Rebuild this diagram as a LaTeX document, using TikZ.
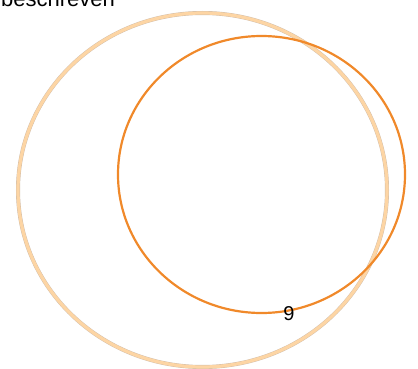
\documentclass[tikz,border=0pt]{standalone}
\usepackage{fontspec}
\setmainfont{Liberation Sans}
\definecolor{peach}{HTML}{FDD5A4}
\definecolor{peachedge}{HTML}{D0BCA8}
\definecolor{tangerine}{HTML}{F0892A}

\tikzset{
  outer circle/.style={draw=peachedge, line width=4pt},
  outer fill/.style={draw=peach, line width=3.2pt},
  inner circle/.style={draw=tangerine, line width=2.2pt},
  label text/.style={text=black, inner sep=0pt},
}

\begin{document}
\begin{tikzpicture}[x=1pt, y=-1pt]

% Frame
\useasboundingbox (0,0) rectangle (418,369);
\clip (0,0) rectangle (418,369);

% Large circle (light)
\draw[outer circle] (202.5,190) ellipse [x radius=184.5, y radius=177];
\draw[outer fill] (202.5,190) ellipse [x radius=184.5, y radius=177];

% Orange circle
\draw[inner circle] (261.5,174.5) ellipse [x radius=143.5, y radius=138.5];

% Labels
\node[label text, font=\fontsize{22}{26}\selectfont, anchor=base west] (title) at (1,7) {beschreven};
\node[label text, font=\fontsize{20}{24}\selectfont] (count) at (289,314) {9};

\end{tikzpicture}
\end{document}
